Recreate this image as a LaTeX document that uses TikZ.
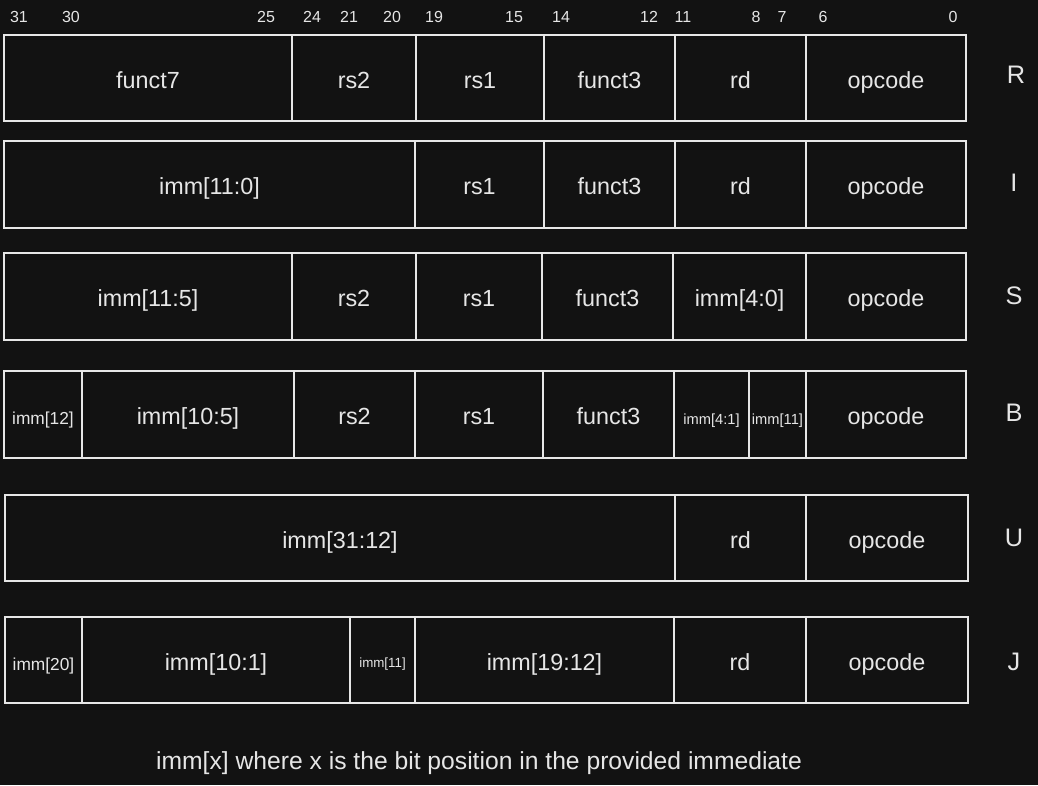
\documentclass[tikz,border=0pt]{standalone}
\usepackage{fontspec}
\setmainfont{Liberation Sans}
\definecolor{bg}{HTML}{121212}
\definecolor{ink}{HTML}{E6E6E6}
\tikzset{
  cell/.style={draw=ink, line width=1.1pt, inner sep=0pt, text=ink, text height=18pt, text depth=3pt, font=\fontsize{17.5}{20}\selectfont},
  small/.style={font=\fontsize{13}{15}\selectfont, text height=17pt, text depth=2pt},
  smaller/.style={font=\fontsize{11}{13}\selectfont, text height=16pt, text depth=1.7pt},
  tiny/.style={font=\fontsize{10}{12}\selectfont, text height=13pt, text depth=2pt},
  bitlbl/.style={text=ink, inner sep=0pt, font=\fontsize{12}{14}\selectfont},
  rowlbl/.style={text=ink, inner sep=0pt, font=\fontsize{19}{22}\selectfont},
}
\newcommand{\fcell}[7][]{%
  \node[cell,#1, minimum width={(#4-#3)*0.75pt}, minimum height={(#6-#5)*0.75pt}] (#2) at ({(#3+#4)/2},{(#5+#6)/2}) {#7};}
\begin{document}
\begin{tikzpicture}[x=0.75pt,y=-0.75pt]
\fill[bg] (0,0) rectangle (1038,785);
\useasboundingbox (0,0) rectangle (1038,785);
% bit numbers
\foreach \n/\x in {31/19,30/71,25/266,24/312,21/349,20/392,19/434,15/514,14/561,12/649,11/683,8/756,7/782,6/823,0/953}
  \node[bitlbl] (b\n) at (\x,17) {\n};
% R
\fcell{r1}{4}{292}{35}{121}{funct7}
\fcell{r2}{292}{416}{35}{121}{rs2}
\fcell{r3}{416}{544}{35}{121}{rs1}
\fcell{r4}{544}{675}{35}{121}{funct3}
\fcell{r5}{675}{806}{35}{121}{rd}
\fcell{r6}{806}{966}{35}{121}{opcode}
% I
\fcell{i1}{4}{415}{141}{228}{imm[11:0]}
\fcell{i2}{415}{544}{141}{228}{rs1}
\fcell{i3}{544}{675}{141}{228}{funct3}
\fcell{i4}{675}{806}{141}{228}{rd}
\fcell{i5}{806}{966}{141}{228}{opcode}
% S
\fcell{s1}{4}{292}{253}{340}{imm[11:5]}
\fcell{s2}{292}{416}{253}{340}{rs2}
\fcell{s3}{416}{542}{253}{340}{rs1}
\fcell{s4}{542}{673}{253}{340}{funct3}
\fcell{s5}{673}{806}{253}{340}{imm[4:0]}
\fcell{s6}{806}{966}{253}{340}{opcode}
% B
\fcell[small]{b1}{4}{82}{371}{458}{imm[12]}
\fcell{b2}{82}{294}{371}{458}{imm[10:5]}
\fcell{b3}{294}{415}{371}{458}{rs2}
\fcell{b4}{415}{543}{371}{458}{rs1}
\fcell{b5}{543}{674}{371}{458}{funct3}
\fcell[smaller]{b6}{674}{749}{371}{458}{imm[4:1]}
\fcell[smaller]{b7}{749}{806}{371}{458}{imm[11]}
\fcell{b8}{806}{966}{371}{458}{opcode}
% U
\fcell{u1}{5}{675}{495}{581}{imm[31:12]}
\fcell{u2}{675}{806}{495}{581}{rd}
\fcell{u3}{806}{968}{495}{581}{opcode}
% J
\fcell[small]{j1}{5}{82}{617}{703}{imm[20]}
\fcell{j2}{82}{350}{617}{703}{imm[10:1]}
\fcell[tiny]{j3}{350}{415}{617}{703}{imm[11]}
\fcell{j4}{415}{674}{617}{703}{imm[19:12]}
\fcell{j5}{674}{806}{617}{703}{rd}
\fcell{j6}{806}{968}{617}{703}{opcode}
% row letters
\node[rowlbl] (lR) at (1016,75) {R};
\node[rowlbl] (lI) at (1014,183) {I};
\node[rowlbl] (lS) at (1014,296) {S};
\node[rowlbl] (lB) at (1014,413) {B};
\node[rowlbl] (lU) at (1014,538) {U};
\node[rowlbl] (lJ) at (1014,662) {J};
% note
\node[text=ink, inner sep=0pt, font=\fontsize{18.5}{22}\selectfont] (note) at (479,763) {imm[x] where x is the bit position in the provided immediate};
\end{tikzpicture}
\end{document}
